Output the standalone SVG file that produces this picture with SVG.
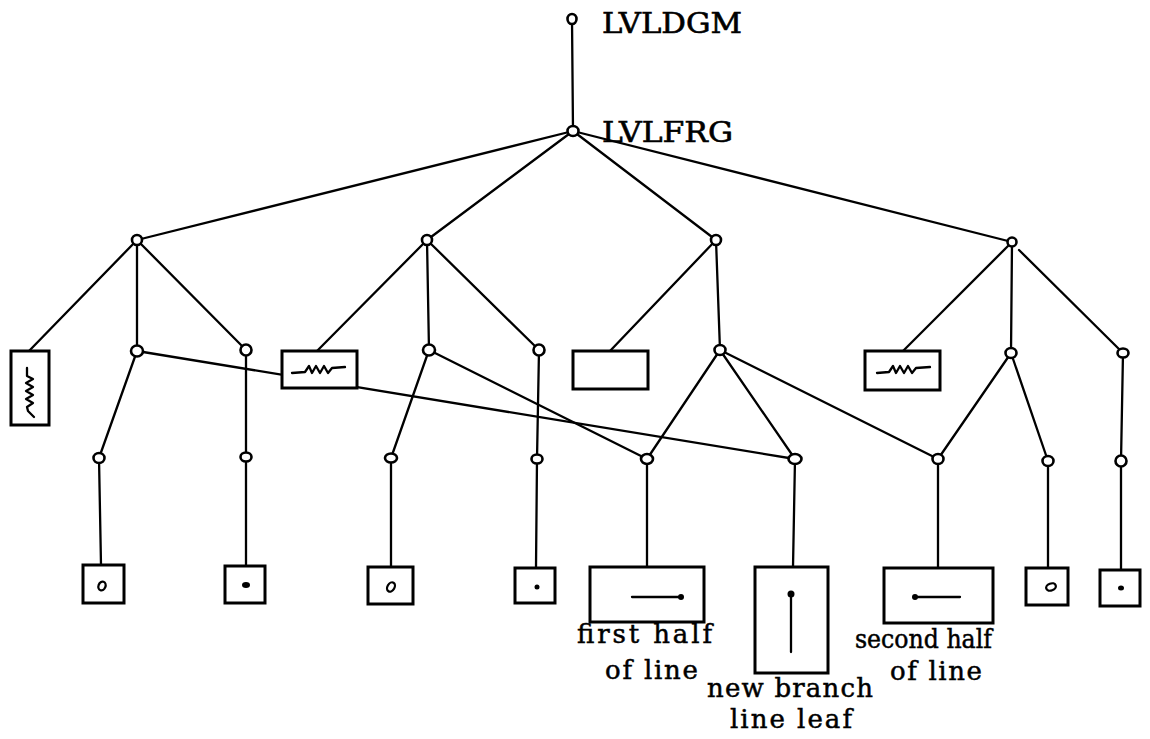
<svg xmlns="http://www.w3.org/2000/svg" width="1150" height="739" viewBox="0 0 1150 739">
<style>
.e{stroke:#000;stroke-width:2.3;fill:none;stroke-linecap:round}
.n{fill:#fff;stroke:#000;stroke-width:2.6}
.b{fill:#fff;stroke:#000;stroke-width:3}
.g{fill:none;stroke:#000;stroke-width:2.3;stroke-linejoin:round;stroke-linecap:round}
.d{fill:#000}
.t{font-family:"DejaVu Serif","Liberation Serif",serif;font-size:26px;fill:#000;stroke:#000;stroke-width:0.5}
.h{font-family:"DejaVu Serif","Liberation Serif",serif;font-size:28px;fill:#000;stroke:#000;stroke-width:0.6}
</style>
<rect width="1150" height="739" fill="#fff"/>
<g id="connectors">
<line class="e" x1="572" y1="19" x2="573" y2="131"/>
<line class="e" x1="573" y1="131" x2="137" y2="240"/>
<line class="e" x1="573" y1="131" x2="427" y2="240"/>
<line class="e" x1="573" y1="131" x2="716" y2="240"/>
<line class="e" x1="573" y1="131" x2="1012" y2="242"/>
<line class="e" x1="137" y1="240" x2="29" y2="351"/>
<line class="e" x1="137" y1="240" x2="137" y2="351"/>
<line class="e" x1="137" y1="240" x2="246" y2="350"/>
<line class="e" x1="137" y1="351" x2="99" y2="458"/>
<line class="e" x1="246" y1="350" x2="246" y2="457"/>
<line class="e" x1="137" y1="351" x2="795" y2="459"/>
<line class="e" x1="99" y1="458" x2="101" y2="565"/>
<line class="e" x1="246" y1="457" x2="246" y2="566"/>
<line class="e" x1="427" y1="240" x2="317" y2="351"/>
<line class="e" x1="427" y1="240" x2="429" y2="350"/>
<line class="e" x1="427" y1="240" x2="539" y2="350"/>
<line class="e" x1="429" y1="350" x2="391" y2="458"/>
<line class="e" x1="429" y1="350" x2="647" y2="459"/>
<line class="e" x1="539" y1="350" x2="537" y2="459"/>
<line class="e" x1="391" y1="458" x2="391" y2="567"/>
<line class="e" x1="537" y1="459" x2="536" y2="568"/>
<line class="e" x1="716" y1="240" x2="610" y2="351"/>
<line class="e" x1="716" y1="240" x2="720" y2="350"/>
<line class="e" x1="720" y1="350" x2="647" y2="459"/>
<line class="e" x1="720" y1="350" x2="795" y2="459"/>
<line class="e" x1="720" y1="350" x2="938" y2="459"/>
<line class="e" x1="647" y1="459" x2="647" y2="567"/>
<line class="e" x1="795" y1="459" x2="793" y2="567"/>
<line class="e" x1="938" y1="459" x2="938" y2="568"/>
<line class="e" x1="1012" y1="242" x2="903" y2="351"/>
<line class="e" x1="1012" y1="242" x2="1011" y2="353"/>
<line class="e" x1="1019" y1="250" x2="1123" y2="353"/>
<line class="e" x1="1011" y1="353" x2="938" y2="459"/>
<line class="e" x1="1011" y1="353" x2="1048" y2="461"/>
<line class="e" x1="1123" y1="353" x2="1121" y2="461"/>
<line class="e" x1="1048" y1="461" x2="1048" y2="568"/>
<line class="e" x1="1121" y1="461" x2="1121" y2="570"/>
</g>
<g id="root">
<ellipse class="n" cx="572" cy="19" rx="4.5" ry="5"/>
<text class="h" x="602" y="33" textLength="140" lengthAdjust="spacingAndGlyphs">LVLDGM</text>
</g>
<g id="frg">
<ellipse class="n" cx="573" cy="131" rx="5.5" ry="5"/>
<text class="h" x="602" y="142" textLength="131" lengthAdjust="spacingAndGlyphs">LVLFRG</text>
</g>
<g id="nA"><ellipse class="n" cx="137" cy="240" rx="5" ry="5"/></g>
<g id="nB"><ellipse class="n" cx="427" cy="240" rx="5" ry="5"/></g>
<g id="nC"><ellipse class="n" cx="716" cy="240" rx="5" ry="5"/></g>
<g id="nD"><ellipse class="n" cx="1012" cy="242" rx="4.5" ry="4.5"/></g>
<g id="nA1"><ellipse class="n" cx="137" cy="351" rx="6" ry="5.5"/></g>
<g id="nA2"><ellipse class="n" cx="246" cy="350" rx="5.5" ry="5.5"/></g>
<g id="nB1"><ellipse class="n" cx="429" cy="350" rx="6" ry="5.5"/></g>
<g id="nB2"><ellipse class="n" cx="539" cy="350" rx="5.5" ry="5.5"/></g>
<g id="nC1"><ellipse class="n" cx="720" cy="350" rx="5.5" ry="5"/></g>
<g id="nD1"><ellipse class="n" cx="1011" cy="353" rx="5.5" ry="5"/></g>
<g id="nD2"><ellipse class="n" cx="1123" cy="353" rx="5.5" ry="4.5"/></g>
<g id="nA11"><ellipse class="n" cx="99" cy="458" rx="5.5" ry="5"/></g>
<g id="nA21"><ellipse class="n" cx="246" cy="457" rx="5.5" ry="4.5"/></g>
<g id="nB11"><ellipse class="n" cx="391" cy="458" rx="6" ry="4.5"/></g>
<g id="nB21"><ellipse class="n" cx="537" cy="459" rx="5.5" ry="4.5"/></g>
<g id="nFirst"><ellipse class="n" cx="647" cy="459" rx="6" ry="5"/></g>
<g id="nNew"><ellipse class="n" cx="795" cy="459" rx="6.5" ry="5"/></g>
<g id="nSecond"><ellipse class="n" cx="938" cy="459" rx="5.5" ry="5"/></g>
<g id="nD11"><ellipse class="n" cx="1048" cy="461" rx="5.5" ry="5"/></g>
<g id="nD21"><ellipse class="n" cx="1121" cy="461" rx="5.5" ry="5.5"/></g>
<g id="box1">
<rect class="b" x="11" y="351" width="38" height="74"/>
<path class="g" d="M27 368 L27 376 L33 379 L26 383 L33 387 L26 391 L33 395 L26 399 L33 403 L27 407 L28 411 L34 417"/>
</g>
<g id="box2">
<rect class="b" x="282" y="351" width="75" height="37"/>
<path class="g" d="M292 373 L305 372 L309 366 L312 373 L316 366 L320 373 L324 366 L328 373 L332 368 L345 367"/>
</g>
<g id="box3">
<rect class="b" x="573" y="351" width="75" height="38"/>
</g>
<g id="box4">
<rect class="b" x="865" y="351" width="75" height="39"/>
<path class="g" d="M877 373 L889 372 L893 366 L896 373 L900 366 L904 373 L908 366 L912 373 L916 368 L930 367"/>
</g>
<g id="leaf1">
<rect class="b" x="83" y="565" width="41" height="38"/>
<ellipse cx="102" cy="586" rx="3.5" ry="4.5" fill="none" stroke="#000" stroke-width="2.3" transform="rotate(20 102 586)"/>
</g>
<g id="leaf2">
<rect class="b" x="225" y="566" width="40" height="37"/>
<ellipse class="d" cx="246" cy="585" rx="4" ry="3"/>
</g>
<g id="leaf3">
<rect class="b" x="368" y="567" width="45" height="37"/>
<ellipse cx="391" cy="587" rx="3.5" ry="5" fill="none" stroke="#000" stroke-width="2.3" transform="rotate(30 391 587)"/>
</g>
<g id="leaf4">
<rect class="b" x="515" y="568" width="40" height="35"/>
<ellipse class="d" cx="537" cy="587" rx="2.5" ry="2.5"/>
</g>
<g id="leafFirst">
<rect class="b" x="590" y="567" width="114" height="55"/>
<line class="e" x1="632" y1="597" x2="681" y2="597"/>
<circle class="d" cx="681" cy="597" r="3"/>
<text class="t" x="577" y="643" textLength="135" lengthAdjust="spacing">first half</text>
<text class="t" x="605" y="679" textLength="93" lengthAdjust="spacing">of line</text>
</g>
<g id="leafNew">
<rect class="b" x="755" y="567" width="73" height="106"/>
<line class="e" x1="791" y1="594" x2="791" y2="652"/>
<circle class="d" cx="791" cy="594" r="3.5"/>
<text class="t" x="707" y="697" textLength="166" lengthAdjust="spacing">new branch</text>
<text class="t" x="730" y="728" textLength="122" lengthAdjust="spacing">line leaf</text>
</g>
<g id="leafSecond">
<rect class="b" x="884" y="568" width="109" height="55"/>
<line class="e" x1="915" y1="597" x2="960" y2="597"/>
<circle class="d" cx="915" cy="597" r="3"/>
<text class="t" x="855" y="648" textLength="137" lengthAdjust="spacingAndGlyphs">second half</text>
<text class="t" x="890" y="680" textLength="92" lengthAdjust="spacing">of line</text>
</g>
<g id="leaf5">
<rect class="b" x="1026" y="568" width="42" height="37"/>
<ellipse cx="1051" cy="587" rx="5" ry="3.5" fill="none" stroke="#000" stroke-width="2.3" transform="rotate(-20 1051 587)"/>
</g>
<g id="leaf6">
<rect class="b" x="1100" y="570" width="40" height="36"/>
<ellipse class="d" cx="1121" cy="588" rx="3" ry="2.5"/>
</g>
</svg>
